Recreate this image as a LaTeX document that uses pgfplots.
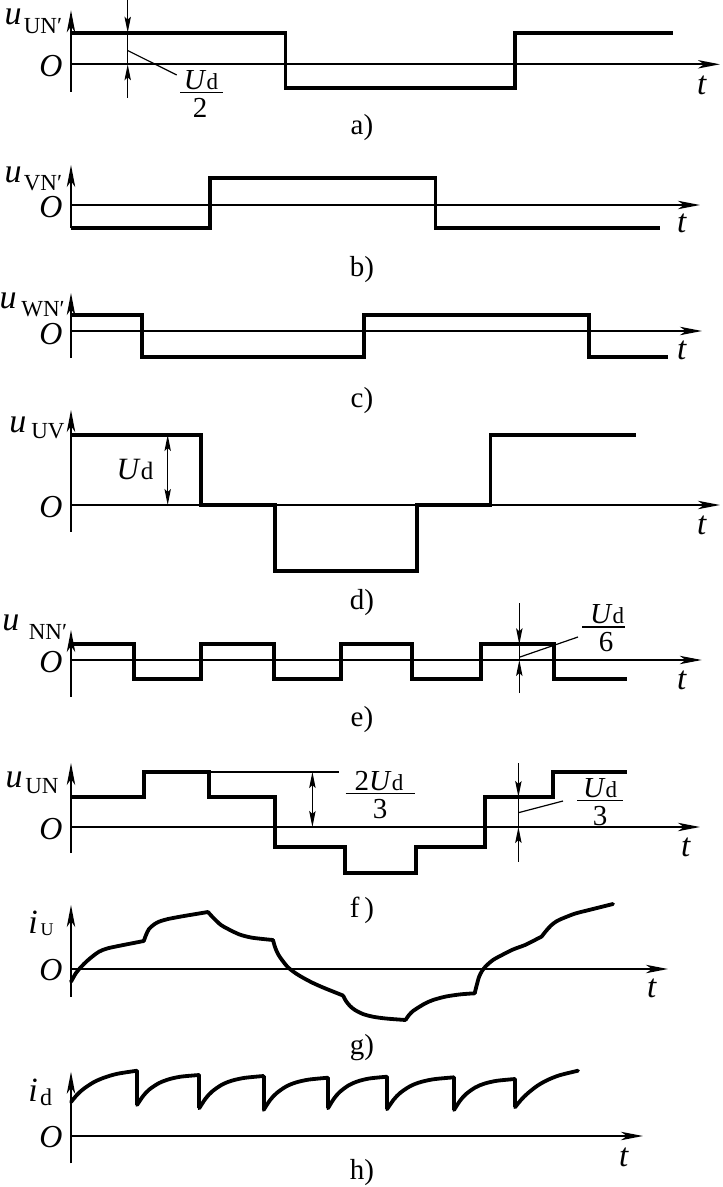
\documentclass[border=0pt]{standalone}
\usepackage{pgfplots}
\pgfplotsset{compat=1.18}
\usetikzlibrary{arrows.meta}
\usepackage{fontspec}
\setmainfont{Liberation Serif}
\newcommand\fs[1]{\fontsize{#1}{#1}\selectfont}
\tikzset{
 ann/.style={line width=0.6pt},
 tip/.style={-{Stealth[length=8pt,width=3.2pt,inset=1.5pt]}},
 dtip/.style={{Stealth[length=8pt,width=3.2pt,inset=1.5pt]}-{Stealth[length=8pt,width=3.2pt,inset=1.5pt]}},
 lb/.style={inner sep=0pt},
}
\pgfplotsset{
 panel/.style={axis lines=middle, x=0.5pt, y=0.5pt, enlargelimits=false, clip=false,
   xtick=\empty, ytick=\empty, xmin=0, anchor=origin,
   axis line style={line width=1pt},
   every inner x axis line/.append style={-{Stealth[length=11pt,width=4.2pt,inset=3pt]}},
   every inner y axis line/.append style={-{Stealth[length=11pt,width=4.2pt,inset=3pt]}}},
 wave/.style={black, line width=1.9pt, line join=miter, no markers},
 curve/.style={black, line width=1.9pt, line cap=round, line join=round, no markers, smooth},
}
\begin{document}
\begin{tikzpicture}
\useasboundingbox (0,0) rectangle (361pt,-593.5pt);
% ---------- a
\begin{axis}[panel, at={(35.5pt,-32.15pt)}, xmax=649, ymin=-27.7, ymax=54]
\addplot[wave] coordinates {(0,31.6) (214.5,31.6) (214.5,-24) (444,-24) (444,31.6) (602,31.6)};
\draw[ann,tip] (56.7,64.3) -- (56.7,31.6);
\draw[ann] (56.7,31.6) -- (56.7,0);
\draw[ann,tip] (56.7,-33.7) -- (56.7,0);
\draw[ann] (57,13.6) -- (105.7,-10.7);
\end{axis}
% ---------- b
\begin{axis}[panel, at={(35.5pt,-102.5pt)}, xmax=629, ymin=-23.3, ymax=40]
\addplot[wave] coordinates {(0,-23.3) (139,-23.3) (139,27.3) (364.5,27.3) (364.5,-23.3) (589,-23.3)};
\end{axis}
% ---------- c
\begin{axis}[panel, at={(35.5pt,-165.5pt)}, xmax=631, ymin=-27, ymax=38]
\addplot[wave] coordinates {(0,16) (70.7,16) (70.7,-26.3) (293,-26.3) (293,16) (518,16) (518,-26.3) (597,-26.3)};
\end{axis}
% ---------- d
\begin{axis}[panel, at={(35.5pt,-252.5pt)}, xmax=649, ymin=-26.7, ymax=95]
\addplot[wave] coordinates {(0,70) (130,70) (130,0) (204,0) (204,-66) (346,-66) (346,0) (419.5,0) (419.5,70) (565,70)};
\draw[ann,dtip] (96.7,0) -- (96.7,70);
\end{axis}
% ---------- e
\begin{axis}[panel, at={(35.5pt,-330pt)}, xmax=630.7, ymin=-36.7, ymax=30,
  every inner x axis line/.append style={line width=0.55pt}]
\addplot[wave] coordinates {(0,15.7) (62.6,15.7) (62.6,-19.3) (130,-19.3) (130,15.7) (203,15.7) (203,-19.3) (270,-19.3) (270,15.7) (341,15.7) (341,-19.3) (409.6,-19.3) (409.6,15.7) (483,15.7) (483,-19.3) (555.7,-19.3)};
\draw[ann,tip] (448.3,57) -- (448.3,15.7);
\draw[ann] (448.3,15.7) -- (448.3,0);
\draw[ann,tip] (448.3,-33) -- (448.3,0);
\draw[ann] (449,3) -- (507,23);
\end{axis}
% ---------- f
\begin{axis}[panel, at={(35.5pt,-413.5pt)}, xmax=629, ymin=-26, ymax=64]
\addplot[wave] coordinates {(0,30) (72.8,30) (72.8,55) (137.8,55) (137.8,30) (204,30) (204,-20) (273.7,-20) (273.7,-46) (345,-46) (345,-20) (414,-20) (414,30) (482,30) (482,55) (555.7,55)};
\draw[ann] (137.8,55) -- (267.7,55);
\draw[ann,dtip] (241.4,0) -- (241.4,55);
\draw[ann,tip] (447.4,64) -- (447.4,30);
\draw[ann] (447.4,30) -- (447.4,0);
\draw[ann,tip] (447.4,-34.7) -- (447.4,0);
\draw[ann] (447.4,14.3) -- (492,26);
\end{axis}
% ---------- g
\begin{axis}[panel, at={(35.5pt,-484.5pt)}, xmax=597, ymin=-27.7, ymax=64]
\addplot[curve] coordinates {(0,-12.7) (5,-4) (10,2) (16,8) (22,13) (28,17.3) (36,20.5) (48.8,23.3) (60,25.5) (72.8,28)};
\addplot[curve] coordinates {(72.8,28) (75,34) (78,40) (83,44.5) (88,47.3) (97,50) (113,53) (125,55) (137,57)};
\addplot[curve] coordinates {(137,57) (142,51.5) (150,44) (158,39.5) (168.6,34.5) (180,31.5) (192,30) (202,29)};
\addplot[curve] coordinates {(202,29) (204,22) (207,15) (211,9) (217,1.7) (225,-4.5) (233,-9.3) (242,-14) (251.6,-18.3) (262,-22.5) (272,-26.5)};
\addplot[curve] coordinates {(272,-26.5) (275,-32) (279,-37) (284,-41) (292,-45) (302,-47.7) (315,-49.5) (334.5,-51)};
\addplot[curve] coordinates {(334.5,-51) (338,-46) (342,-42) (346,-39.3) (354,-34.5) (362,-31) (375,-27.5) (390,-25.3) (403.7,-24.3)};
\addplot[curve] coordinates {(403.7,-24.3) (405.5,-17) (408,-8) (411,-2) (415,3) (422,9) (431,14) (442,19.5) (454,24) (462,28) (470.5,32.3)};
\addplot[curve] coordinates {(470.5,32.3) (475,38) (480,43.5) (486,48) (495,52) (505,55.7) (520,59.5) (542,65)};
\end{axis}
% ---------- h
\begin{axis}[panel, at={(35.5pt,-568pt)}, xmax=572, ymin=-27.3, ymax=64.3]
\addplot[curve] coordinates {(0,34) (6.6,41.8) (13.2,47.6) (23.1,54) (33,58.3) (46.2,62.2) (66,65.3)};
\addplot[wave] coordinates {(66,65.3) (66,31)};
\addplot[curve] coordinates {(66,31) (72.2,40.1) (78.4,46.6) (87.8,52.8) (97.1,56.5) (109.5,59.3) (128.2,61)};
\addplot[wave] coordinates {(128.2,61) (128.2,27.7)};
\addplot[curve] coordinates {(128.2,27.7) (134.6,37.5) (141.1,44.5) (150.7,51.2) (160.4,55.2) (173.3,58.1) (192.6,60)};
\addplot[wave] coordinates {(192.6,60) (192.6,26)};
\addplot[curve] coordinates {(192.6,26) (199,35.8) (205.5,42.8) (215.1,49.5) (224.8,53.5) (237.7,56.4) (257,58.3)};
\addplot[wave] coordinates {(257,58.3) (257,27.7)};
\addplot[curve] coordinates {(257,27.7) (262.9,37.3) (268.8,44.1) (277.7,50.7) (286.5,54.6) (298.3,57.5) (316,59.3)};
\addplot[wave] coordinates {(316,59.3) (316,26.7)};
\addplot[curve] coordinates {(316,26.7) (322.7,36.4) (329.4,43.3) (339.5,50) (349.5,53.9) (362.9,56.8) (383,58.7)};
\addplot[wave] coordinates {(383,58.7) (383,26)};
\addplot[curve] coordinates {(383,26) (389.1,35.4) (395.2,42.1) (404.4,48.6) (413.5,52.4) (425.7,55.2) (444,57)};
\addplot[wave] coordinates {(444,57) (444,28.7)};
\addplot[curve] coordinates {(444,28.7) (450.3,36.4) (456.6,42.6) (466,50) (475.5,55.5) (488.1,60.6) (507,65.3)};
\end{axis}
% ---------- labels (pixel coordinates of the reference)
\begin{scope}[x=0.5pt,y=-0.5pt]
% y labels
\node[lb] at (13,17) {\fs{17}\textit{u}};   \node[lb] at (43,26) {\fs{11.5}UN′};
\node[lb] at (13,175) {\fs{17}\textit{u}};  \node[lb] at (43,183) {\fs{11.5}VN′};
\node[lb] at (8,301) {\fs{17}\textit{u}};   \node[lb] at (43,309) {\fs{11.5}WN′};
\node[lb] at (18,425) {\fs{17}\textit{u}};  \node[lb] at (48,431) {\fs{11.5}UV};
\node[lb] at (11,623) {\fs{17}\textit{u}};  \node[lb] at (48,632) {\fs{11.5}NN′};
\node[lb] at (14,780) {\fs{17}\textit{u}};  \node[lb] at (42,786) {\fs{11.5}UN};
\node[lb] at (33,922) {\fs{17}\textit{i}};  \node[lb] at (47,930) {\fs{9}U};
\node[lb] at (33,1090) {\fs{17}\textit{i}}; \node[lb] at (46,1097) {\fs{12}d};
% O
\foreach \yy in {66,207,334,507,662,829,970,1137} \node[lb] at (51,\yy) {\fs{16}\textit{O}};
% t
\node[lb] at (702,85) {\fs{16.5}\textit{t}};
\node[lb] at (682,223) {\fs{16.5}\textit{t}};
\node[lb] at (682,350) {\fs{16.5}\textit{t}};
\node[lb] at (702,525) {\fs{16.5}\textit{t}};
\node[lb] at (682,680) {\fs{16.5}\textit{t}};
\node[lb] at (686,847) {\fs{16.5}\textit{t}};
\node[lb] at (652,988) {\fs{16.5}\textit{t}};
\node[lb] at (624,1157) {\fs{16.5}\textit{t}};
% panel captions
\node[lb] at (362,128) {\fs{14.5}a)};
\node[lb] at (362,270) {\fs{14.5}b)};
\node[lb] at (362,401) {\fs{14.5}c)};
\node[lb] at (362,603) {\fs{14.5}d)};
\node[lb] at (362,720) {\fs{14.5}e)};
\node[lb] at (362,910) {\fs{14.5}f\,)};
\node[lb] at (362,1048) {\fs{14.5}g)};
\node[lb] at (362,1173) {\fs{14.5}h)};
% fractions
\node[lb] at (201,80.5) {\fs{14.5}\textit{U}\fs{11.5}d};
\draw[line width=0.7pt] (180,92.7) -- (223,92.7);
\node[lb] at (200,108) {\fs{14.5}2};
\node[lb] at (135,470) {\fs{15.5}\textit{U}\fs{12.5}d};
\node[lb] at (607,614.5) {\fs{14.5}\textit{U}\fs{11.5}d};
\draw[line width=0.7pt] (582,627) -- (625,627);
\node[lb] at (606,642.5) {\fs{14.5}6};
\node[lb] at (379,781) {\fs{14.5}2\textit{U}\fs{11.5}d};
\draw[line width=0.7pt] (345.6,793.3) -- (414.7,793.3);
\node[lb] at (380,809) {\fs{14.5}3};
\node[lb] at (600,788.5) {\fs{14.5}\textit{U}\fs{11.5}d};
\draw[line width=0.7pt] (577,800.7) -- (623,800.7);
\node[lb] at (600,816.5) {\fs{14.5}3};
\end{scope}
\end{tikzpicture}
\end{document}
